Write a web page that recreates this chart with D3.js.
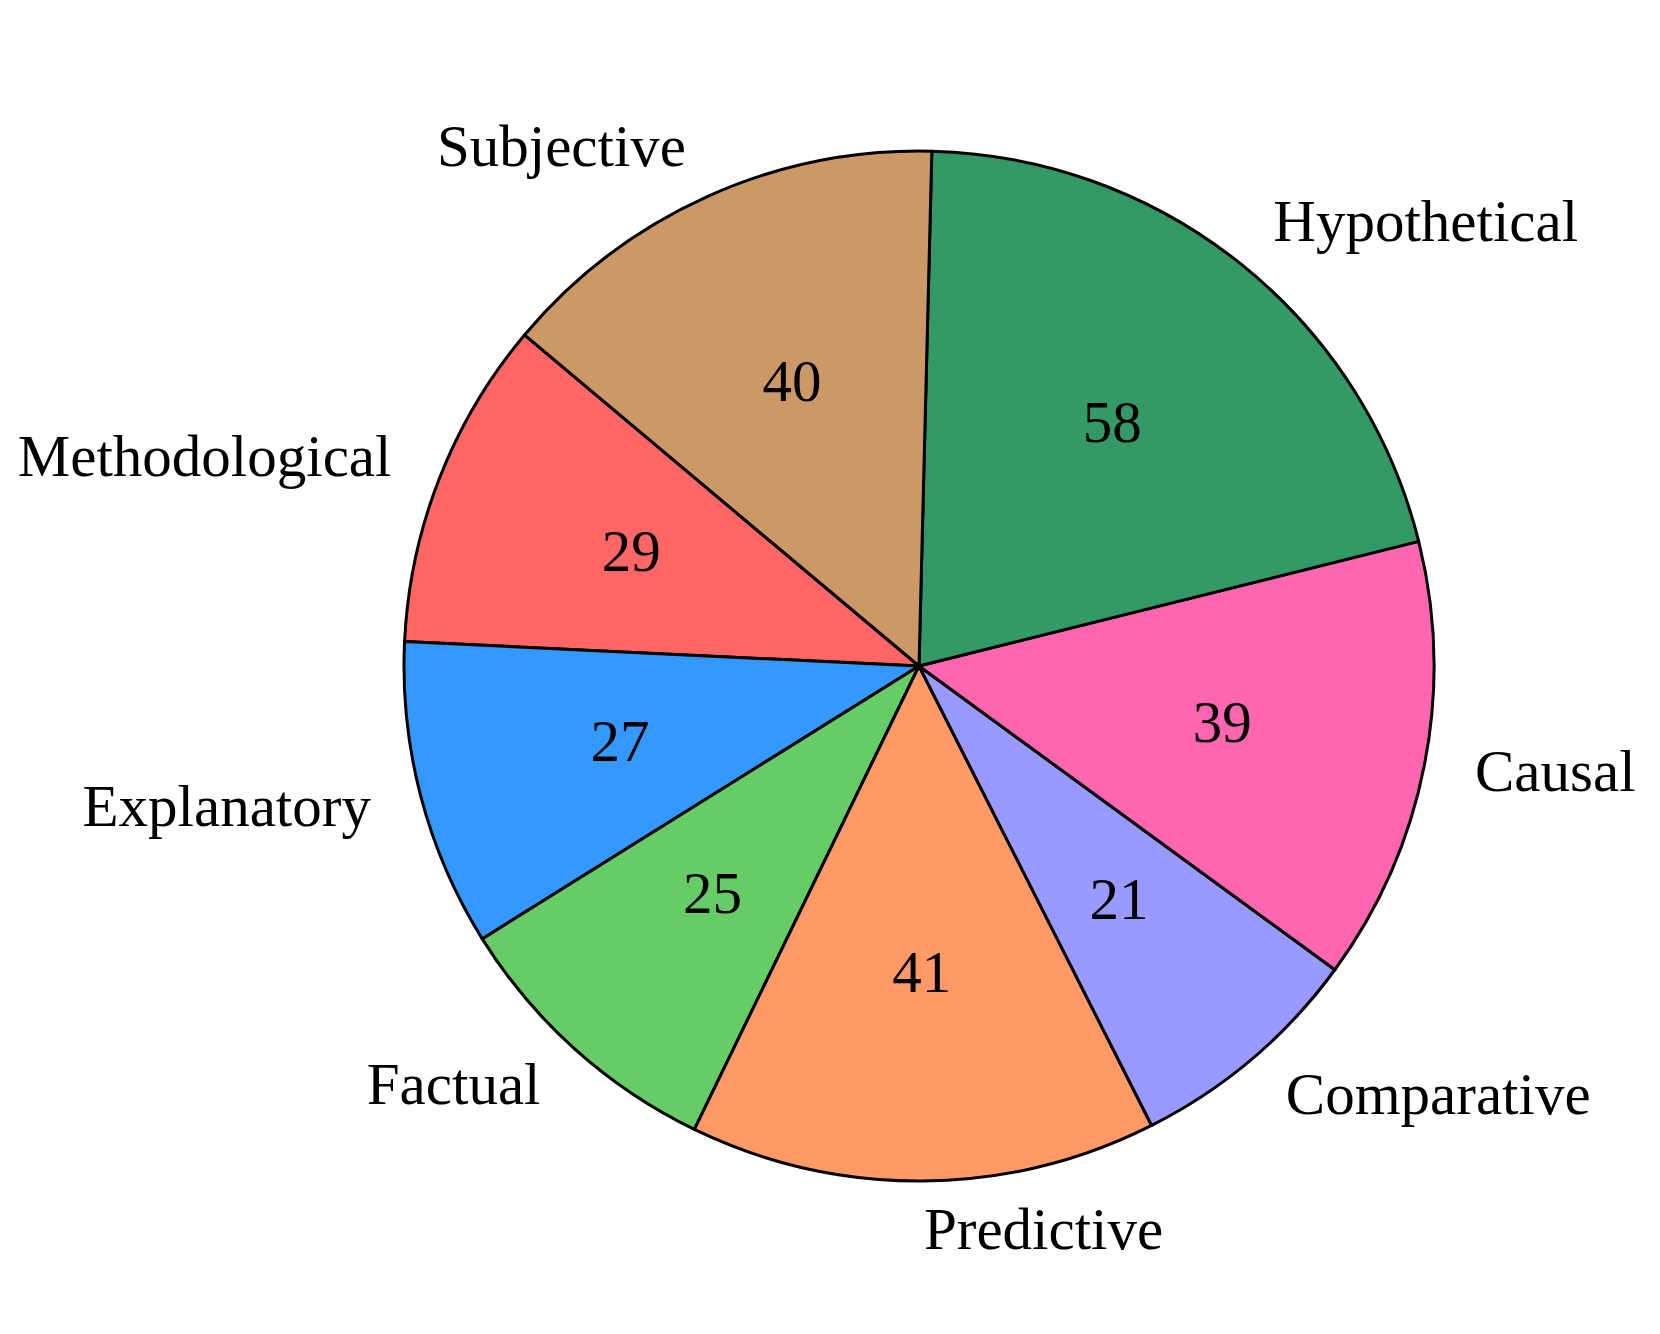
<!DOCTYPE html>
<html>
<head>
<meta charset="utf-8">
<script src="https://cdn.jsdelivr.net/npm/d3@7"></script>
<style>
  body { margin: 0; background: #fff; }
  text { font-family: "Liberation Serif", "DejaVu Serif", serif; fill: #000; }
</style>
</head>
<body>
<div id="chart"></div>
<script>
// data (counter-clockwise order, first slice starts at 140 deg)
const categories = ["Methodological", "Explanatory", "Factual", "Predictive", "Comparative", "Causal", "Hypothetical", "Subjective"];
const counts = [29, 27, 25, 41, 21, 39, 58, 40];
const colors = ["#FF6666", "#3399FF", "#66CC66", "#FF9966", "#9999FF", "#FF66B2", "#339966", "#CC9966"];

const width = 1660;
const height = 1334;
const cx = 919, cy = 666;
const radius = 515;

const svg = d3.select("#chart")
    .append("svg")
    .attr("width", width)
    .attr("height", height);

const g = svg.append("g")
    .attr("transform", `translate(${cx}, ${cy})`);

const data = categories.map((c, i) => ({ name: c, value: counts[i], color: colors[i] }));

// matplotlib style startangle=140, counterclockwise -> d3 angle = 90 - 140
const start = (90 - 140) * Math.PI / 180;
const pie = d3.pie()
    .value(d => d.value)
    .sort(null)
    .startAngle(start)
    .endAngle(start - 2 * Math.PI);

const arcs = pie(data);

const arc = d3.arc().innerRadius(0).outerRadius(radius);

g.selectAll("path")
    .data(arcs)
    .enter()
    .append("path")
    .attr("d", arc)
    .attr("fill", d => d.data.color)
    .attr("stroke", "#000")
    .attr("stroke-width", 3)
    .attr("stroke-linejoin", "round");

function pos(d, k) {
    const a = (d.startAngle + d.endAngle) / 2;
    return [Math.sin(a) * radius * k, -Math.cos(a) * radius * k];
}

// values inside
g.selectAll("text.pct")
    .data(arcs)
    .enter()
    .append("text")
    .attr("class", "pct")
    .attr("x", d => pos(d, 0.6)[0])
    .attr("y", d => pos(d, 0.6)[1])
    .attr("dy", "0.29em")
    .attr("text-anchor", "middle")
    .style("font-size", "59px")
    .text(d => d.data.value);

// category labels outside
g.selectAll("text.lbl")
    .data(arcs)
    .enter()
    .append("text")
    .attr("class", "lbl")
    .attr("x", d => pos(d, 1.1)[0])
    .attr("y", d => pos(d, 1.1)[1])
    .attr("dy", "0.28em")
    .attr("text-anchor", d => pos(d, 1.1)[0] > 0 ? "start" : "end")
    .style("font-size", "59px")
    .text(d => d.data.name);
</script>
</body>
</html>
